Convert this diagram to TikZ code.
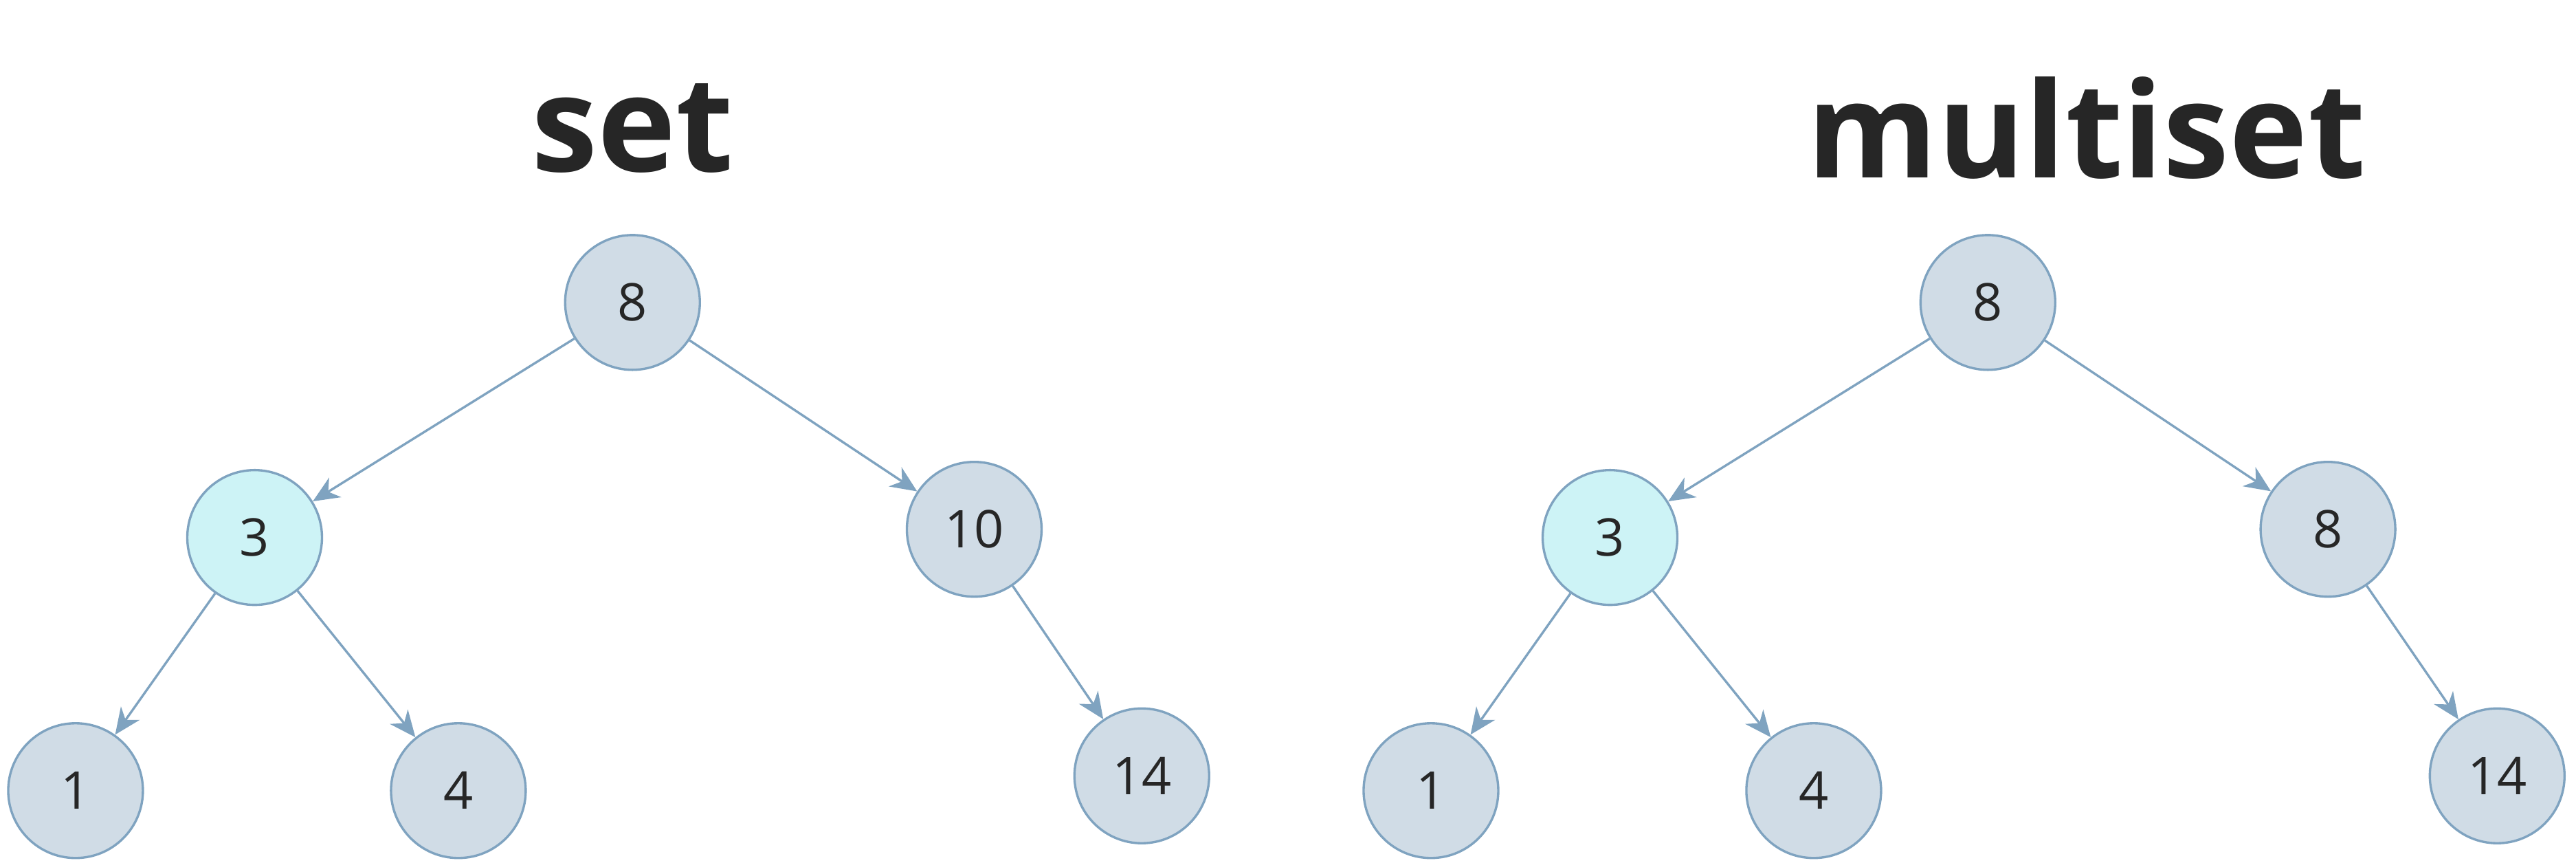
\documentclass[tikz,border=0pt]{standalone}
\usepackage{fontspec}
\setmainfont{Open Sans}
\usetikzlibrary{arrows.meta}
\definecolor{nodefill}{HTML}{D0DCE6}
\definecolor{nodeline}{HTML}{7FA3C0}
\definecolor{hifill}{HTML}{CDF3F6}
\definecolor{titlecol}{HTML}{262626}
\begin{document}
\begin{tikzpicture}[
  key/.style={draw=nodeline,fill=nodefill,circle,minimum size=0.82cm,inner sep=0pt,font=\fontsize{9}{10}\selectfont,text=titlecol},
  hot/.style={key,fill=hifill},
  link/.style={draw=nodeline,thin,-{Stealth[length=1.6mm,width=1.4mm,inset=0.5mm]}},
  title/.style={font=\fontsize{23}{27}\selectfont\bfseries,text=titlecol}]
\useasboundingbox (0,0) rectangle (15.68,-5.25);

% set
\node[title] (tset) at (3.85,-0.78) {set};
\node[key] (s8) at (3.85,-1.84) {8};
\node[hot] (s3) at (1.55,-3.27) {3};
\node[key] (s10) at (5.93,-3.22) {10};
\node[key] (s1) at (0.46,-4.81) {1};
\node[key] (s4) at (2.79,-4.81) {4};
\node[key] (s14) at (6.95,-4.72) {14};

\draw[link] (s8) -- (s3);
\draw[link] (s8) -- (s10);
\draw[link] (s3) -- (s1);
\draw[link] (s3) -- (s4);
\draw[link] (s10) -- (s14);

% multiset
\node[title] (tmulti) at (12.70,-0.78) {multiset};
\node[key] (m8) at (12.10,-1.84) {8};
\node[hot] (m3) at (9.80,-3.27) {3};
\node[key] (m8b) at (14.17,-3.22) {8};
\node[key] (m1) at (8.71,-4.81) {1};
\node[key] (m4) at (11.04,-4.81) {4};
\node[key] (m14) at (15.20,-4.72) {14};

\draw[link] (m8) -- (m3);
\draw[link] (m8) -- (m8b);
\draw[link] (m3) -- (m1);
\draw[link] (m3) -- (m4);
\draw[link] (m8b) -- (m14);
\end{tikzpicture}
\end{document}
